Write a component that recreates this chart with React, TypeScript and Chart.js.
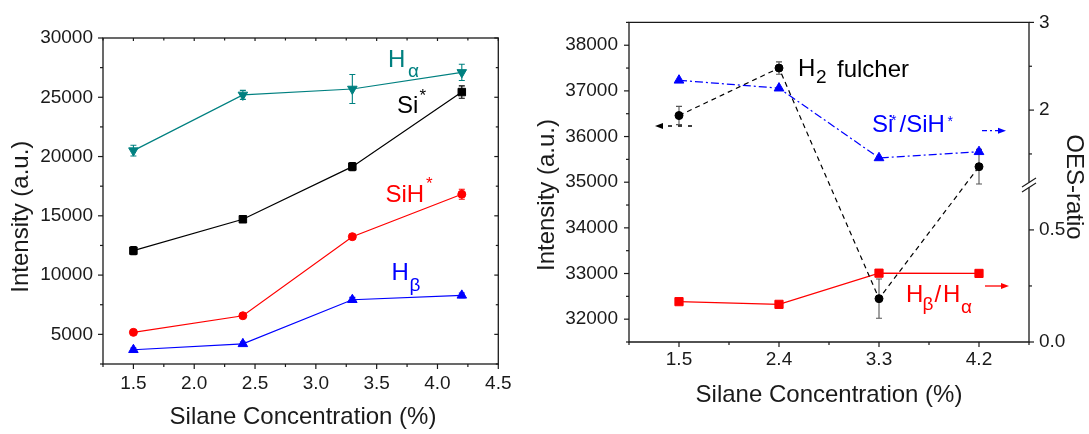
import React, { useEffect, useRef } from 'react';
import { Chart, registerables, LinearScale } from 'chart.js';

Chart.register(...registerables);

// ---------------- data ----------------
const concentration = [1.5, 2.4, 3.3, 4.2];

// left panel: emission intensities
const hAlpha = [20500, 25200, 25700, 27100];
const hAlphaErr = [450, 380, 1220, 690];
const siStar = [12060, 14710, 19150, 25440];
const siStarErr = [350, 100, 350, 520];
const siHStar = [5170, 6570, 13240, 16820];
const siHStarErr = [150, 150, 200, 420];
const hBeta = [3700, 4200, 7920, 8290];
const hBetaErr = [150, 150, 200, 200];

// right panel: H2 fulcher intensity and OES ratios
const h2Fulcher = [36460, 37500, 32450, 35340];
const h2FulcherErr = [200, 135, 430, 380];
const siRatio = [2.34, 2.25, 1.455, 1.525];
const hRatio = [0.18, 0.168, 0.307, 0.306];

// ticks
const leftXMajor = [1.5, 2.0, 2.5, 3.0, 3.5, 4.0, 4.5];
const leftXMinor = [1.25, 1.75, 2.25, 2.75, 3.25, 3.75, 4.25];
const leftYMajor = [5000, 10000, 15000, 20000, 25000, 30000];
const leftYMinor = [2500, 7500, 12500, 17500, 22500, 27500];
const rightXMajor = [1.5, 2.4, 3.3, 4.2];
const rightXMinor = [1.05, 1.95, 2.85, 3.75, 4.65];
const rightYMajor = [32000, 33000, 34000, 35000, 36000, 37000, 38000];
const rightYMinor = [31500, 32500, 33500, 34500, 35500, 36500, 37500, 38500];
const ratioMajor = [0, 0.5, 2, 3];
const ratioMinor = [0.25, 1.5, 2.5];

// broken ratio axis: [0, 0.7] on lower part, [1.145, 3] on upper part
const BREAK_LOW_MAX = 0.7;
const BREAK_HIGH_MIN = 1.145;
const BREAK_SPLIT = 0.491;

const FONT = "'Liberation Sans', Arial, Helvetica, sans-serif";
const AXIS = '#1a1a1a';
const TEAL = '#008080';
const RED = '#ff0000';
const BLUE = '#0000ff';
const BLACK = '#000000';

class BrokenLinearScale extends LinearScale {
  static id = 'brokenLinear';
  static defaults = {};
  getPixelForValue(value: number) {
    let dec: number;
    if (value <= BREAK_LOW_MAX) {
      dec = ((value - this.min) / (BREAK_LOW_MAX - this.min)) * BREAK_SPLIT;
    } else {
      dec = BREAK_SPLIT + ((value - BREAK_HIGH_MIN) / (this.max - BREAK_HIGH_MIN)) * (1 - BREAK_SPLIT);
    }
    return this.getPixelForDecimal(dec);
  }
}
Chart.register(BrokenLinearScale as any);

// ---------------- helpers ----------------
const pts = (ys: number[]) => concentration.map((x, i) => ({ x, y: ys[i] }));

function text(ctx: CanvasRenderingContext2D, s: string, x: number, y: number, size: number, color: string, align: CanvasTextAlign = 'left') {
  ctx.save();
  ctx.font = `${size}px ${FONT}`;
  ctx.fillStyle = color;
  ctx.textAlign = align;
  ctx.textBaseline = 'alphabetic';
  ctx.fillText(s, x, y);
  ctx.restore();
}

function rotText(ctx: CanvasRenderingContext2D, s: string, x: number, y: number, size: number, angle: number) {
  ctx.save();
  ctx.translate(x, y);
  ctx.rotate(angle);
  ctx.font = `${size}px ${FONT}`;
  ctx.fillStyle = AXIS;
  ctx.textAlign = 'center';
  ctx.textBaseline = 'alphabetic';
  ctx.fillText(s, 0, 0);
  ctx.restore();
}

function arrow(ctx: CanvasRenderingContext2D, tail: number, tip: number, y: number, color: string, dash: number[]) {
  const dir = Math.sign(tip - tail);
  const headLen = 8;
  ctx.save();
  ctx.strokeStyle = color;
  ctx.fillStyle = color;
  ctx.lineWidth = 1.3;
  ctx.setLineDash(dash);
  ctx.beginPath();
  ctx.moveTo(tail, y);
  ctx.lineTo(tip - dir * headLen, y);
  ctx.stroke();
  ctx.setLineDash([]);
  ctx.beginPath();
  ctx.moveTo(tip, y);
  ctx.lineTo(tip - dir * headLen, y - 3);
  ctx.lineTo(tip - dir * headLen, y + 3);
  ctx.closePath();
  ctx.fill();
  ctx.restore();
}

type TickSpec = { id: string; side: 'left' | 'right' | 'top' | 'bottom'; values: number[]; len: number; out: boolean };

function drawTicks(chart: any, specs: TickSpec[]) {
  const ctx = chart.ctx as CanvasRenderingContext2D;
  const a = chart.chartArea;
  ctx.save();
  ctx.strokeStyle = AXIS;
  ctx.lineWidth = 1.2;
  for (const s of specs) {
    const scale = chart.scales[s.id];
    for (const v of s.values) {
      const p = scale.getPixelForValue(v);
      const l = s.out ? s.len : -s.len;
      ctx.beginPath();
      if (s.side === 'bottom') { ctx.moveTo(p, a.bottom); ctx.lineTo(p, a.bottom + l); }
      if (s.side === 'top') { ctx.moveTo(p, a.top); ctx.lineTo(p, a.top - l); }
      if (s.side === 'left') { ctx.moveTo(a.left, p); ctx.lineTo(a.left - l, p); }
      if (s.side === 'right') { ctx.moveTo(a.right, p); ctx.lineTo(a.right + l, p); }
      ctx.stroke();
    }
  }
  ctx.restore();
}

const errorBarPlugin = {
  id: 'errorBars',
  beforeDatasetsDraw(chart: any) {
    const ctx = chart.ctx as CanvasRenderingContext2D;
    chart.data.datasets.forEach((ds: any, i: number) => {
      if (!ds.errors) return;
      const meta = chart.getDatasetMeta(i);
      const yScale = chart.scales[meta.yAxisID];
      ctx.save();
      ctx.strokeStyle = ds.errorColor;
      ctx.lineWidth = 1.1;
      meta.data.forEach((pt: any, j: number) => {
        const v = ds.data[j].y;
        const e = ds.errors[j];
        const x = pt.x;
        const yt = yScale.getPixelForValue(v + e);
        const yb = yScale.getPixelForValue(v - e);
        ctx.beginPath();
        ctx.moveTo(x, yt); ctx.lineTo(x, yb);
        ctx.moveTo(x - 3, yt); ctx.lineTo(x + 3, yt);
        ctx.moveTo(x - 3, yb); ctx.lineTo(x + 3, yb);
        ctx.stroke();
      });
      ctx.restore();
    });
  },
};

const tickFont = { family: FONT, size: 19 };

function series(label: string, ys: number[], color: string, style: string, radius: number, extra: any = {}) {
  return {
    label,
    data: pts(ys),
    borderColor: color,
    backgroundColor: color,
    pointBackgroundColor: color,
    pointBorderColor: color,
    pointStyle: style,
    pointRadius: radius,
    pointBorderWidth: 1,
    borderWidth: 1.2,
    tension: 0,
    ...extra,
  };
}

// ---------------- left chart ----------------
const LEFT_OFFSET = 0;

const leftDeco = {
  id: 'leftDeco',
  afterDraw(chart: any) {
    const ctx = chart.ctx as CanvasRenderingContext2D;
    const a = chart.chartArea;
    ctx.save();
    ctx.strokeStyle = AXIS;
    ctx.lineWidth = 1.3;
    ctx.strokeRect(a.left, a.top, a.right - a.left, a.bottom - a.top);
    ctx.restore();
    drawTicks(chart, [
      { id: 'x', side: 'bottom', values: leftXMajor, len: 5, out: true },
      { id: 'x', side: 'bottom', values: leftXMinor, len: 3, out: true },
      { id: 'y', side: 'left', values: leftYMajor, len: 5, out: true },
      { id: 'y', side: 'left', values: leftYMinor, len: 3, out: true },
      { id: 'x', side: 'top', values: leftXMajor, len: 3, out: false },
      { id: 'x', side: 'top', values: leftXMinor, len: 2.5, out: false },
      { id: 'y', side: 'right', values: leftYMajor, len: 4, out: false },
      { id: 'y', side: 'right', values: leftYMinor, len: 2.5, out: false },
    ]);
    const o = LEFT_OFFSET;
    text(ctx, 'Silane Concentration (%)', 303 - o, 424, 24, AXIS, 'center');
    rotText(ctx, 'Intensity (a.u.)', 27.5 - o, 216.7, 24, -Math.PI / 2);
    // series labels
    text(ctx, 'H', 388 - o, 66.7, 24, TEAL);
    text(ctx, 'α', 408 - o, 77, 19, TEAL);
    text(ctx, 'Si', 397 - o, 113.3, 24, BLACK);
    text(ctx, '*', 419.5 - o, 100.5, 17, BLACK);
    text(ctx, 'SiH', 385.5 - o, 201.7, 24, RED);
    text(ctx, '*', 426 - o, 189, 17, RED);
    text(ctx, 'H', 391.5 - o, 280, 24, BLUE);
    text(ctx, 'β', 409.5 - o, 291, 19, BLUE);
  },
};

function leftConfig(): any {
  return {
    type: 'line',
    data: {
      datasets: [
        series('Hα', hAlpha, TEAL, 'triangle', 5.5, { pointRotation: 180, errors: hAlphaErr, errorColor: TEAL }),
        series('Si*', siStar, BLACK, 'rect', 5.3, { errors: siStarErr, errorColor: BLACK }),
        series('SiH*', siHStar, RED, 'circle', 4, { errors: siHStarErr, errorColor: RED }),
        series('Hβ', hBeta, BLUE, 'triangle', 5.5, { errors: hBetaErr, errorColor: BLUE }),
      ],
    },
    options: {
      responsive: false,
      animation: false,
      devicePixelRatio: 1,
      events: [],
      layout: { padding: { top: 38, right: 17, left: 0, bottom: 0 } },
      plugins: { legend: { display: false }, tooltip: { enabled: false } },
      scales: {
        x: {
          type: 'linear',
          min: 1.25,
          max: 4.5,
          afterBuildTicks: (s: any) => { s.ticks = leftXMajor.map((v) => ({ value: v })); },
          afterFit: (s: any) => { s.height = 70; },
          grid: { display: false, drawTicks: false },
          border: { display: false },
          ticks: { font: tickFont, color: AXIS, padding: 8.5, autoSkip: false, maxRotation: 0, minRotation: 0, callback: (v: number) => v.toFixed(1) },
        },
        y: {
          type: 'linear',
          min: 2500,
          max: 30000,
          afterBuildTicks: (s: any) => { s.ticks = leftYMajor.map((v) => ({ value: v })); },
          afterFit: (s: any) => { s.width = 103; },
          grid: { display: false, drawTicks: false },
          border: { display: false },
          ticks: { font: tickFont, color: AXIS, padding: 10, autoSkip: false, callback: (v: number) => String(v) },
        },
      },
    },
    plugins: [errorBarPlugin, leftDeco],
  };
}

// ---------------- right chart ----------------
const RIGHT_OFFSET = 520;

const rightDeco = {
  id: 'rightDeco',
  afterDraw(chart: any) {
    const ctx = chart.ctx as CanvasRenderingContext2D;
    const a = chart.chartArea;
    const y2 = chart.scales.y2;
    const yb = y2.getPixelForDecimal(BREAK_SPLIT);
    ctx.save();
    ctx.strokeStyle = AXIS;
    ctx.lineWidth = 1.3;
    ctx.beginPath();
    ctx.moveTo(a.right, yb - 2.5);
    ctx.lineTo(a.right, a.top);
    ctx.lineTo(a.left, a.top);
    ctx.lineTo(a.left, a.bottom);
    ctx.lineTo(a.right, a.bottom);
    ctx.lineTo(a.right, yb + 2.5);
    ctx.stroke();
    ctx.lineWidth = 1.1;
    for (const d of [-2.5, 2.5]) {
      ctx.beginPath();
      ctx.moveTo(a.right - 7, yb + d + 4.5);
      ctx.lineTo(a.right + 7, yb + d - 4.5);
      ctx.stroke();
    }
    ctx.restore();
    drawTicks(chart, [
      { id: 'x', side: 'bottom', values: rightXMajor, len: 5, out: true },
      { id: 'x', side: 'bottom', values: rightXMinor, len: 3, out: true },
      { id: 'y', side: 'left', values: rightYMajor, len: 5, out: true },
      { id: 'y', side: 'left', values: rightYMinor, len: 3, out: true },
      { id: 'y2', side: 'right', values: ratioMajor, len: 5, out: true },
      { id: 'y2', side: 'right', values: ratioMinor, len: 3, out: true },
    ]);
    const o = RIGHT_OFFSET;
    text(ctx, 'Silane Concentration (%)', 829 - o, 401.5, 24, AXIS, 'center');
    rotText(ctx, 'Intensity (a.u.)', 553.5 - o, 195, 24, -Math.PI / 2);
    rotText(ctx, 'OES-ratio', 1067 - o, 187, 24, Math.PI / 2);
    // annotations
    text(ctx, 'H', 798 - o, 76, 24, BLACK);
    text(ctx, '2', 816 - o, 83.3, 19, BLACK);
    text(ctx, 'fulcher', 837 - o, 76.5, 24, BLACK);
    text(ctx, 'Si', 872 - o, 131.7, 24, BLUE);
    text(ctx, '*', 891 - o, 125, 14, BLUE);
    text(ctx, '/SiH', 899.5 - o, 131.7, 24, BLUE);
    text(ctx, '*', 947.5 - o, 125.5, 14, BLUE);
    text(ctx, 'H', 906 - o, 302, 24, RED);
    text(ctx, 'β', 922.5 - o, 309.5, 19, RED);
    text(ctx, '/', 934.5 - o, 302, 24, RED);
    text(ctx, 'H', 943 - o, 302, 24, RED);
    text(ctx, 'α', 961 - o, 313, 19, RED);
    arrow(ctx, 692 - o, 655 - o, 126, BLACK, [4, 6]);
    arrow(ctx, 982 - o, 1006 - o, 130.7, BLUE, [5, 3, 2, 3]);
    arrow(ctx, 985 - o, 1009 - o, 286, RED, []);
  },
};

function rightConfig(): any {
  return {
    type: 'line',
    data: {
      datasets: [
        series('Si*/SiH*', siRatio, BLUE, 'triangle', 5.6, { yAxisID: 'y2', borderDash: [8, 3, 2, 3] }),
        series('H2 fulcher', h2Fulcher, BLACK, 'circle', 4, { yAxisID: 'y', borderDash: [5, 4], errors: h2FulcherErr, errorColor: '#555555' }),
        series('Hβ/Hα', hRatio, RED, 'rect', 5.8, { yAxisID: 'y2' }),
      ],
    },
    options: {
      responsive: false,
      animation: false,
      devicePixelRatio: 1,
      events: [],
      layout: { padding: { top: 16, right: 0, left: 0, bottom: 0 } },
      plugins: { legend: { display: false }, tooltip: { enabled: false } },
      scales: {
        x: {
          type: 'linear',
          min: 1.05,
          max: 4.65,
          afterBuildTicks: (s: any) => { s.ticks = rightXMajor.map((v) => ({ value: v })); },
          afterFit: (s: any) => { s.height = 92; },
          grid: { display: false, drawTicks: false },
          border: { display: false },
          ticks: { font: tickFont, color: AXIS, padding: 6.6, autoSkip: false, maxRotation: 0, minRotation: 0, callback: (v: number) => v.toFixed(1) },
        },
        y: {
          type: 'linear',
          position: 'left',
          min: 31500,
          max: 38500,
          afterBuildTicks: (s: any) => { s.ticks = rightYMajor.map((v) => ({ value: v })); },
          afterFit: (s: any) => { s.width = 109; },
          grid: { display: false, drawTicks: false },
          border: { display: false },
          ticks: { font: tickFont, color: AXIS, padding: 11, autoSkip: false, callback: (v: number) => String(v) },
        },
        y2: {
          type: 'brokenLinear',
          position: 'right',
          min: 0,
          max: 3,
          afterBuildTicks: (s: any) => { s.ticks = ratioMajor.map((v) => ({ value: v })); },
          afterFit: (s: any) => { s.width = 60; },
          grid: { display: false, drawTicks: false },
          border: { display: false },
          ticks: { font: tickFont, color: AXIS, padding: 10, autoSkip: false, callback: (v: number) => (v < 1 ? v.toFixed(1) : String(v)) },
        },
      },
    },
    plugins: [errorBarPlugin, rightDeco],
  };
}

export default function App() {
  const leftRef = useRef<HTMLCanvasElement>(null);
  const rightRef = useRef<HTMLCanvasElement>(null);
  useEffect(() => {
    const c1 = new Chart(leftRef.current as HTMLCanvasElement, leftConfig());
    const c2 = new Chart(rightRef.current as HTMLCanvasElement, rightConfig());
    return () => {
      c1.destroy();
      c2.destroy();
    };
  }, []);
  return (
    <div style={{ position: 'fixed', left: 0, top: 0, width: 1089, height: 434, background: '#ffffff', overflow: 'hidden' }}>
      <canvas ref={leftRef} width={520} height={434} style={{ position: 'absolute', left: 0, top: 0, width: 520, height: 434 }} />
      <canvas ref={rightRef} width={569} height={434} style={{ position: 'absolute', left: 520, top: 0, width: 569, height: 434 }} />
    </div>
  );
}
